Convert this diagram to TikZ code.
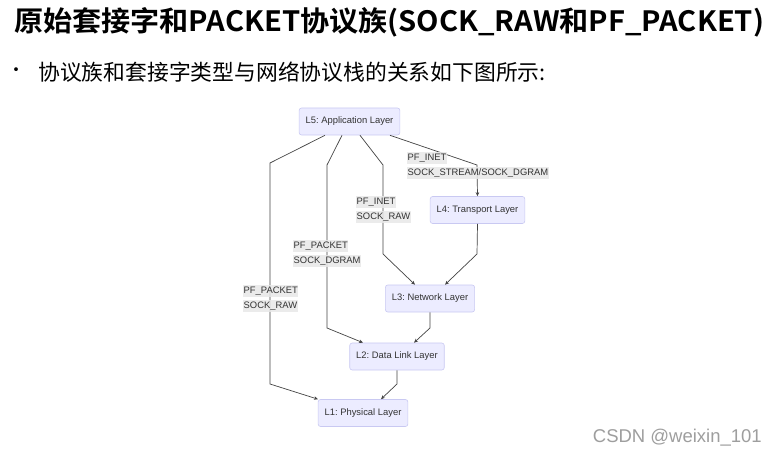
\documentclass[tikz,border=0pt]{standalone}
\usepackage{fontspec}
\setmainfont{Liberation Sans}
\newfontfamily\cjk{Noto Sans CJK SC}[BoldFont={Noto Sans CJK SC Bold}]
\usetikzlibrary{arrows.meta}
\definecolor{nodefill}{HTML}{ECECFF}
\definecolor{nodedraw}{HTML}{C9C9F2}
\definecolor{edgecol}{HTML}{444444}
\definecolor{txtcol}{HTML}{333333}
\definecolor{lblbg}{HTML}{E8E8E8}
\frenchspacing
\tikzset{
  layer/.style={draw=nodedraw, fill=nodefill, rounded corners=2.5pt, line width=0.6pt,
    font=\fontsize{9.4}{11}\selectfont, text=txtcol, inner xsep=6.5pt, minimum height=27pt, inner ysep=0pt},
  lbl/.style={anchor=west, fill=lblbg, fill opacity=0.85, text opacity=1, text=txtcol,
    font=\fontsize{9.4}{11}\selectfont, inner xsep=0.5pt, inner ysep=1.5pt},
  conn/.style={draw=edgecol, line width=0.7pt, -{Stealth[length=4pt,width=3.5pt]}}
}
\begin{document}
\begin{tikzpicture}[x=1pt,y=-1pt]
\useasboundingbox (0,0) rectangle (778,457);
\fill[white] (0,0) rectangle (778,457);

% title and bullet
\node[anchor=west, inner sep=0pt, font={\cjk\bfseries\fontsize{28}{30}\selectfont}] (title) at (14,22)
  {\scalebox{1.04}[1]{原始套接字和PACKET协议族(SOCK\_RAW和PF\_PACKET)}};
\node[inner sep=0pt, font={\cjk\fontsize{18}{20}\selectfont}] (bullet) at (17,72) {•};
\node[anchor=west, inner sep=0pt, font={\cjk\fontsize{21.8}{24}\selectfont}] (sub) at (38,72)
  {协议族和套接字类型与网络协议栈的关系如下图所示:};

% layer nodes
\node[layer] (L5) at (349.5,121.5) {L5: Application Layer};
\node[layer] (L4) at (477.5,210) {L4: Transport Layer};
\node[layer] (L3) at (430,298.5) {L3: Network Layer};
\node[layer] (L2) at (397,356.5) {L2: Data Link Layer};
\node[layer] (L1) at (363,413) {L1: Physical Layer};

% edges
\draw[conn] (L5.south -| 325,0) -- (270,163) -- (270,384) -- (L1.north -| 318,0);
\draw[conn] (L5.south -| 342,0) -- (327,165) -- (327,328) -- (L2.north -| 363,0);
\draw[conn] (L5.south -| 360,0) -- (383,165) -- (383,254) -- (L3.north -| 415,0);
\draw[conn] (L5.south -| 390,0) -- (477,165) -- (L4.north);
\draw[conn] (L4.south) -- (477,254) -- (L3.north -| 445,0);
\draw[conn] (L3.south) -- (430,328) -- (L2.north -| 414,0);
\draw[conn] (L2.south) -- (397,384) -- (L1.north -| 381,0);

% edge labels
\node[lbl] (a1) at (407,158) {PF\_INET};
\node[lbl] (a2) at (407,173) {SOCK\_STREAM/SOCK\_DGRAM};
\node[lbl] (b1) at (356,202) {PF\_INET};
\node[lbl] (b2) at (356,217) {SOCK\_RAW};
\node[lbl] (c1) at (293,246) {PF\_PACKET};
\node[lbl] (c2) at (293,261) {SOCK\_DGRAM};
\node[lbl] (d1) at (243,291) {PF\_PACKET};
\node[lbl] (d2) at (243,306) {SOCK\_RAW};

% watermark
\node[anchor=east, inner sep=0pt, text=black!38, font=\fontsize{18.5}{20}\selectfont] (wm) at (762,438) {CSDN @weixin\_101};
\end{tikzpicture}
\end{document}
